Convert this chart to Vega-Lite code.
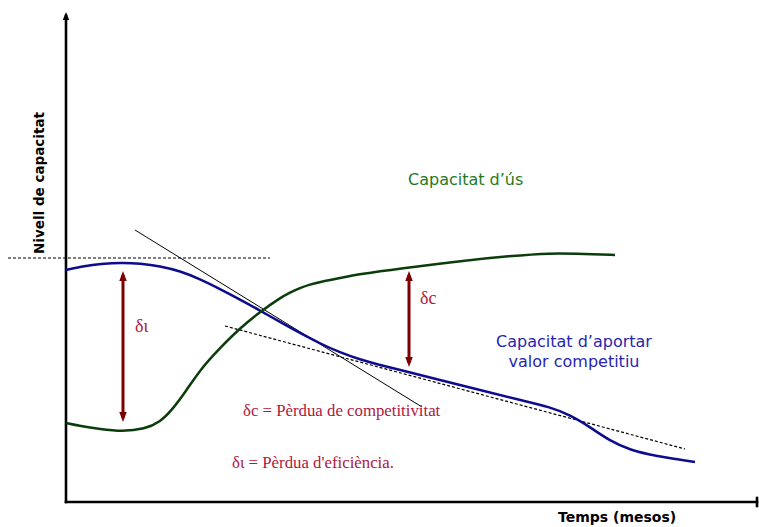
{
  "$schema": "https://vega.github.io/schema/vega-lite/v6.json",
  "width": 759,
  "height": 527,
  "autosize": {"type": "fit", "contains": "padding"},
  "padding": 0,
  "background": "white",
  "config": {"view": {"stroke": null}},
  "encoding": {
    "x": {"field": "t", "type": "quantitative", "scale": {"domain": [-66, 693], "nice": false, "zero": false}, "axis": null},
    "y": {"field": "level", "type": "quantitative", "scale": {"domain": [-25, 502], "nice": false, "zero": false}, "axis": null}
  },
  "layer": [
    {
      "data": {"values": [
        {"t": 0, "level": 0, "t2": 0, "level2": 486},
        {"t": 0, "level": 0, "t2": 691, "level2": 0},
        {"t": 691, "level": -4, "t2": 691, "level2": 4}
      ]},
      "mark": {"type": "rule", "color": "black", "strokeWidth": 2.6, "strokeCap": "square"},
      "encoding": {"x2": {"field": "t2"}, "y2": {"field": "level2"}}
    },
    {
      "data": {"values": [{"t": 0, "level": 490}]},
      "mark": {"type": "point", "shape": "M0,0 L-0.8,2 L0.8,2 Z", "size": 64, "filled": true, "color": "black", "opacity": 1, "strokeWidth": 0}
    },
    {
      "data": {"values": [
        {"t": -58, "level": 244, "t2": 204, "level2": 244},
        {"t": 159, "level": 176, "t2": 619, "level2": 53}
      ]},
      "mark": {"type": "rule", "color": "black", "strokeWidth": 1.2, "strokeDash": [3, 2]},
      "encoding": {"x2": {"field": "t2"}, "y2": {"field": "level2"}}
    },
    {
      "data": {"values": [
        {"t": 69, "level": 272, "t2": 356, "level2": 95}
      ]},
      "mark": {"type": "rule", "color": "black", "strokeWidth": 1},
      "encoding": {"x2": {"field": "t2"}, "y2": {"field": "level2"}}
    },
    {
      "data": {"values": [
        {"series": "valor", "t": 0, "level": 232},
        {"series": "valor", "t": 19, "level": 236},
        {"series": "valor", "t": 34, "level": 238},
        {"series": "valor", "t": 56, "level": 239.5},
        {"series": "valor", "t": 74, "level": 238.5},
        {"series": "valor", "t": 94, "level": 236},
        {"series": "valor", "t": 114, "level": 231},
        {"series": "valor", "t": 134, "level": 223},
        {"series": "valor", "t": 154, "level": 213},
        {"series": "valor", "t": 174, "level": 202.5},
        {"series": "valor", "t": 194, "level": 191.5},
        {"series": "valor", "t": 214, "level": 180},
        {"series": "valor", "t": 234, "level": 169},
        {"series": "valor", "t": 254, "level": 158.5},
        {"series": "valor", "t": 274, "level": 149.5},
        {"series": "valor", "t": 294, "level": 142.5},
        {"series": "valor", "t": 314, "level": 137},
        {"series": "valor", "t": 334, "level": 132},
        {"series": "valor", "t": 374, "level": 122},
        {"series": "valor", "t": 414, "level": 112},
        {"series": "valor", "t": 454, "level": 102},
        {"series": "valor", "t": 484, "level": 95},
        {"series": "valor", "t": 504, "level": 87},
        {"series": "valor", "t": 524, "level": 75},
        {"series": "valor", "t": 544, "level": 61},
        {"series": "valor", "t": 564, "level": 52},
        {"series": "valor", "t": 589, "level": 46},
        {"series": "valor", "t": 629, "level": 40},
        {"series": "us", "t": 0, "level": 79},
        {"series": "us", "t": 14, "level": 76},
        {"series": "us", "t": 34, "level": 73},
        {"series": "us", "t": 56, "level": 70.5},
        {"series": "us", "t": 79, "level": 73},
        {"series": "us", "t": 94, "level": 80},
        {"series": "us", "t": 106, "level": 92},
        {"series": "us", "t": 120, "level": 111},
        {"series": "us", "t": 134, "level": 132},
        {"series": "us", "t": 152, "level": 152},
        {"series": "us", "t": 174, "level": 174},
        {"series": "us", "t": 194, "level": 190},
        {"series": "us", "t": 214, "level": 204},
        {"series": "us", "t": 224, "level": 209.5},
        {"series": "us", "t": 234, "level": 214},
        {"series": "us", "t": 244, "level": 217.5},
        {"series": "us", "t": 254, "level": 220},
        {"series": "us", "t": 274, "level": 224},
        {"series": "us", "t": 294, "level": 228},
        {"series": "us", "t": 334, "level": 233.5},
        {"series": "us", "t": 394, "level": 241},
        {"series": "us", "t": 444, "level": 246},
        {"series": "us", "t": 484, "level": 249},
        {"series": "us", "t": 519, "level": 248},
        {"series": "us", "t": 549, "level": 247}
      ]},
      "mark": {"type": "line", "strokeWidth": 2.5, "interpolate": "basis"},
      "encoding": {
        "color": {"field": "series", "type": "nominal", "scale": {"domain": ["valor", "us"], "range": ["#0c0c8e", "#0b3d0b"]}, "legend": null}
      }
    },
    {
      "data": {"values": [
        {"t": 57, "level": 84, "t2": 57, "level2": 227},
        {"t": 343, "level": 139, "t2": 343, "level2": 227}
      ]},
      "mark": {"type": "rule", "color": "#7c0000", "strokeWidth": 3},
      "encoding": {"x2": {"field": "t2"}, "y2": {"field": "level2"}}
    },
    {
      "data": {"values": [{"t": 57, "level": 231}, {"t": 343, "level": 231}]},
      "mark": {"type": "point", "shape": "M0,0 L-0.75,2 L0.75,2 Z", "size": 100, "filled": true, "color": "#7c0000", "opacity": 1, "strokeWidth": 0}
    },
    {
      "data": {"values": [{"t": 57, "level": 80}, {"t": 343, "level": 135}]},
      "mark": {"type": "point", "shape": "M0,0 L-0.75,-2 L0.75,-2 Z", "size": 100, "filled": true, "color": "#7c0000", "opacity": 1, "strokeWidth": 0}
    },
    {
      "data": {"values": [
        {"t": 69, "level": 175, "label": "δι"},
        {"t": 354, "level": 203, "label": "δc"}
      ]},
      "mark": {"type": "text", "font": "Liberation Serif", "fontSize": 18, "color": "#b0183e", "align": "left", "baseline": "middle"},
      "encoding": {"text": {"field": "label"}}
    },
    {
      "data": {"values": [
        {"t": 177, "level": 91, "label": "δc = Pèrdua de competitivitat"},
        {"t": 166, "level": 39, "label": "δι = Pèrdua d'eficiència."}
      ]},
      "mark": {"type": "text", "font": "Liberation Serif", "fontSize": 16.8, "color": "#b0183e", "align": "left", "baseline": "middle"},
      "encoding": {"text": {"field": "label"}}
    },
    {
      "data": {"values": [{"t": 342, "level": 322, "label": "Capacitat d’ús"}]},
      "mark": {"type": "text", "font": "DejaVu Sans", "fontSize": 16, "color": "#1f7a1f", "align": "left", "baseline": "middle"},
      "encoding": {"text": {"field": "label"}}
    },
    {
      "data": {"values": [
        {"t": 508, "level": 160, "label": "Capacitat d’aportar"},
        {"t": 508, "level": 140, "label": "valor competitiu"}
      ]},
      "mark": {"type": "text", "font": "DejaVu Sans", "fontSize": 16, "color": "#2626b0", "align": "center", "baseline": "middle"},
      "encoding": {"text": {"field": "label"}}
    },
    {
      "data": {"values": [{"t": 492, "level": -16, "label": "Temps (mesos)"}]},
      "mark": {"type": "text", "font": "DejaVu Sans", "fontSize": 14, "fontWeight": "bold", "color": "black", "align": "left", "baseline": "middle"},
      "encoding": {"text": {"field": "label"}}
    },
    {
      "data": {"values": [{"t": -26, "level": 319, "label": "Nivell de capacitat"}]},
      "mark": {"type": "text", "font": "DejaVu Sans", "fontSize": 13.5, "fontWeight": "bold", "color": "black", "align": "center", "baseline": "middle", "angle": 270},
      "encoding": {"text": {"field": "label"}}
    }
  ]
}
